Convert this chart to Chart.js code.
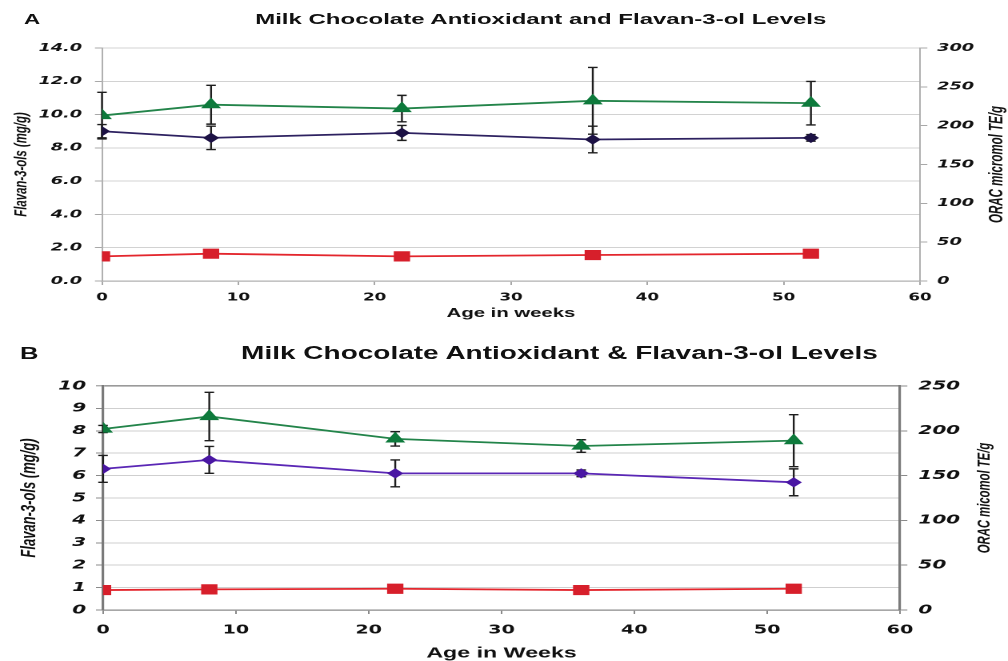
<!DOCTYPE html>
<html lang="en">
<head>
<meta charset="UTF-8">
<title>Milk Chocolate Antioxidant and Flavan-3-ol Levels</title>
<script src="https://cdn.jsdelivr.net/npm/chart.js"></script>
<style>
  body { margin: 0; background: #fff; width: 1008px; height: 661px; overflow: hidden; position: relative; }
  /* the original figure is stretched sideways, so each panel is drawn narrow and widened */
  .panel { position: absolute; left: 0; width: 630px; transform: scaleX(1.6); transform-origin: 0 0;
           font-family: "Liberation Sans", Arial, sans-serif; color: #111; }
  .panel canvas { position: absolute; left: 0; top: 0; }
  .tag, .title { position: absolute; font-weight: bold; white-space: nowrap; }
  .title { width: 420px; text-align: center; }
</style>
</head>
<body>
<div class="panel" style="top:0;height:330px">
  <canvas id="chartA" width="630" height="330"></canvas>
  <div class="tag" style="left:15px;top:11.5px;font-size:14px;line-height:14px">A</div>
  <div class="title" style="left:128px;top:11.3px;font-size:15px;line-height:15px">Milk Chocolate Antioxidant and Flavan-3-ol Levels</div>
</div>
<div class="panel" style="top:330px;height:331px">
  <canvas id="chartB" width="630" height="331"></canvas>
  <div class="tag" style="left:12.5px;top:15.5px;font-size:16px;line-height:16px">B</div>
  <div class="title" style="left:139.7px;top:14.5px;font-size:17.5px;line-height:17.5px">Milk Chocolate Antioxidant &amp; Flavan-3-ol Levels</div>
</div>

<script>
// sampling times (weeks)
const weeks = [0, 8, 22, 36, 52];
const xTicks = [0, 10, 20, 30, 40, 50, 60];

// panel A
const oracA = [213, 227, 222, 232, 229];
const oracErrA = [30, 25, 17, 43, 28];
const flavanolsA = [9.0, 8.6, 8.9, 8.5, 8.6];
const flavanolsErrA = [0.4, 0.7, 0.45, 0.8, 0.2];
const monomersA = [1.48, 1.64, 1.48, 1.56, 1.64];
const leftTicksA = [0, 2, 4, 6, 8, 10, 12, 14];
const rightTicksA = [0, 50, 100, 150, 200, 250, 300];

// panel B
const oracB = [202, 216, 191, 183, 189];
const oracErrB = [4, 27, 8, 7, 29];
const flavanolsB = [6.3, 6.7, 6.1, 6.1, 5.7];
const flavanolsErrB = [0.6, 0.6, 0.6, 0.15, 0.6];
const monomersB = [0.89, 0.92, 0.95, 0.89, 0.95];
const leftTicksB = [0, 1, 2, 3, 4, 5, 6, 7, 8, 9, 10];
const rightTicksB = [0, 50, 100, 150, 200, 250];

function pts(vals) {
  return weeks.map((w, i) => ({ x: w, y: vals[i] }));
}

const errorBars = {
  id: 'errorBars',
  beforeDatasetsDraw(chart) {
    const ctx = chart.ctx;
    chart.data.datasets.forEach((ds, i) => {
      if (!ds.errors) return;
      const meta = chart.getDatasetMeta(i);
      const ys = chart.scales[ds.yAxisID];
      ctx.save();
      ctx.strokeStyle = '#1e1e1e';
      meta.data.forEach((pt, j) => {
        const v = ds.data[j].y, e = ds.errors[j];
        const top = ys.getPixelForValue(v + e);
        const bot = ys.getPixelForValue(v - e);
        ctx.lineWidth = 1.2;
        ctx.beginPath();
        ctx.moveTo(pt.x, top);
        ctx.lineTo(pt.x, bot);
        ctx.stroke();
        ctx.lineWidth = 1.4;
        ctx.beginPath();
        ctx.moveTo(pt.x - 3, top); ctx.lineTo(pt.x + 3, top);
        ctx.moveTo(pt.x - 3, bot); ctx.lineTo(pt.x + 3, bot);
        ctx.stroke();
      });
      ctx.restore();
    });
  }
};

// rotated y-axis titles, both reading bottom to top
const sideTitles = {
  id: 'sideTitles',
  afterDraw(chart, args, opts) {
    const ctx = chart.ctx, area = chart.chartArea;
    (opts.items || []).forEach(t => {
      ctx.save();
      ctx.translate(t.x, (area.top + area.bottom) / 2);
      ctx.rotate(-Math.PI / 2);
      ctx.font = t.font;
      ctx.fillStyle = '#111';
      ctx.textAlign = 'center';
      ctx.textBaseline = 'middle';
      ctx.fillText(t.text, 0, 0);
      ctx.restore();
    });
  }
};

function series(label, vals, errs, axis, line, mark, style, r) {
  return {
    label: label, data: pts(vals), errors: errs, yAxisID: axis,
    borderColor: line, backgroundColor: mark, borderWidth: 1.8,
    pointStyle: style, pointRadius: r, pointBackgroundColor: mark,
    pointBorderColor: mark, pointBorderWidth: 1, tension: 0, fill: false
  };
}

function makeChart(id, p) {
  const setTicks = arr => s => { s.ticks = arr.map(v => ({ value: v })); };
  return new Chart(document.getElementById(id), {
    type: 'line',
    data: { datasets: p.datasets },
    options: {
      responsive: false,
      animation: false,
      devicePixelRatio: 2,
      layout: { padding: { top: p.top, left: 0, right: 0, bottom: 0 } },
      plugins: {
        legend: { display: false },
        tooltip: { enabled: false },
        sideTitles: { items: p.sideTitles }
      },
      scales: {
        x: {
          type: 'linear', min: 0, max: 60,
          afterBuildTicks: setTicks(xTicks),
          afterFit: s => { s.height = p.xH; },
          grid: { drawOnChartArea: false, drawTicks: true, tickLength: 4, color: p.tickColor },
          border: { display: true, color: p.xBorder, width: 1.2 },
          ticks: { font: { family: 'DejaVu Sans', weight: 'bold', size: p.xFont, lineHeight: 1.2 },
                   color: '#111', padding: p.xPad, maxRotation: 0, autoSkip: false },
          title: { display: true, text: p.xTitle, color: '#111',
                   font: { family: 'Liberation Sans', weight: 'bold', size: p.xTitleFont, lineHeight: 1 },
                   padding: { top: 0, bottom: p.xTitlePad } }
        },
        y: {
          position: 'left', min: p.leftTicks[0], max: p.leftTicks[p.leftTicks.length - 1],
          afterBuildTicks: setTicks(p.leftTicks),
          afterFit: s => { s.width = p.leftW; },
          grid: { color: p.gridColor, lineWidth: p.gridWidth, tickLength: 4.4, tickColor: p.tickColor, tickWidth: 1 },
          border: { display: true, color: p.yBorder, width: p.yBorderW },
          ticks: { font: { family: 'DejaVu Sans', style: 'italic', weight: 'bold', size: p.yFont },
                   color: '#111', padding: p.leftPad, autoSkip: false, callback: p.leftFmt }
        },
        y1: {
          position: 'right', min: p.rightTicks[0], max: p.rightTicks[p.rightTicks.length - 1],
          afterBuildTicks: setTicks(p.rightTicks),
          afterFit: s => { s.width = p.rightW; },
          grid: { drawOnChartArea: false, tickLength: 4.6, color: p.tickColor },
          border: { display: true, color: p.yBorder, width: p.yBorderW },
          ticks: { font: { family: 'DejaVu Sans', style: 'italic', weight: 'bold', size: p.yFont },
                   color: '#111', padding: p.rightPad, autoSkip: false, callback: v => String(v) }
        }
      }
    },
    plugins: [errorBars, sideTitles]
  });
}

makeChart('chartA', {
  datasets: [
    series('ORAC', oracA, oracErrA, 'y1', '#23844a', '#0e7a3c', 'triangle', 6.2),
    series('Flavan-3-ols', flavanolsA, flavanolsErrA, 'y', '#2d2160', '#1d1245', 'rectRot', 4.4),
    series('Monomers', monomersA, null, 'y', '#e3262d', '#d71f2b', 'rect', 6.5)
  ],
  top: 48, leftW: 63.75, rightW: 55, xH: 49,
  leftTicks: leftTicksA, rightTicks: rightTicksA, leftFmt: v => v.toFixed(1),
  gridColor: '#d2d2d2', gridWidth: 1, tickColor: '#a8a8a8',
  xBorder: '#b0b0b0', yBorder: '#a8a8a8', yBorderW: 0.9,
  yFont: 11, leftPad: 8.1, rightPad: 6.2,
  xFont: 10.5, xPad: 6.7, xTitle: 'Age in weeks', xTitleFont: 12.7, xTitlePad: 10,
  sideTitles: [
    { text: 'Flavan-3-ols (mg/g)', x: 13.5, font: "italic bold 11.4px 'Liberation Sans'" },
    { text: 'ORAC micromol TE/g', x: 623.5, font: "italic bold 11.5px 'Liberation Sans'" }
  ]
});

makeChart('chartB', {
  datasets: [
    series('ORAC', oracB, oracErrB, 'y1', '#23844a', '#0e7a3c', 'triangle', 6.2),
    series('Flavan-3-ols', flavanolsB, flavanolsErrB, 'y', '#5a27b5', '#4a17a3', 'rectRot', 4.4),
    series('Monomers', monomersB, null, 'y', '#e3262d', '#d71f2b', 'rect', 6.5)
  ],
  top: 56, leftW: 64.4, rightW: 67.5, xH: 51,
  leftTicks: leftTicksB, rightTicks: rightTicksB, leftFmt: v => String(v),
  gridColor: c => (c.tick && c.tick.value === 10 ? '#9a9a9a' : '#cfcfcf'),
  gridWidth: c => (c.tick && c.tick.value === 10 ? 1.6 : 1),
  tickColor: '#8a8a8a',
  xBorder: '#8a8a8a', yBorder: '#7a7a7a', yBorderW: 1.6,
  yFont: 12.5, leftPad: 6.2, rightPad: 6.9,
  xFont: 12, xPad: 9.3, xTitle: 'Age in Weeks', xTitleFont: 14.5, xTitlePad: 0.25,
  sideTitles: [
    { text: 'Flavan-3-ols (mg/g)', x: 18.5, font: "italic bold 13px 'Liberation Sans'" },
    { text: 'ORAC micomol TE/g', x: 615.6, font: "italic bold 11.3px 'Liberation Sans'" }
  ]
});
</script>
</body>
</html>
